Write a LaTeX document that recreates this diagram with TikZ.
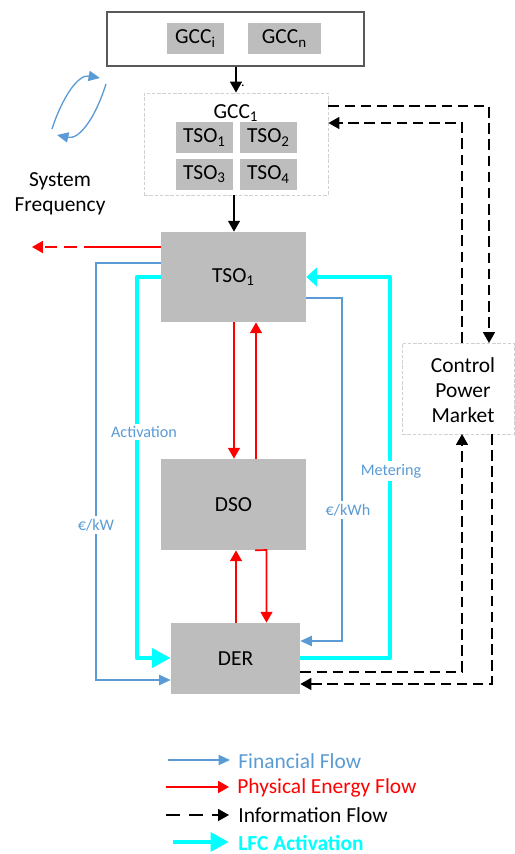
\documentclass[tikz,border=0pt]{standalone}
\usepackage{fontspec}
\setmainfont{Carlito}
\usepackage{xcolor}
\usetikzlibrary{arrows.meta,positioning,calc}
\definecolor{flowblue}{HTML}{5B9BD5}
\definecolor{boxgray}{HTML}{BDBDBD}
\definecolor{lfccyan}{HTML}{00FFFF}

\begin{document}
\begin{tikzpicture}[
  x=0.02cm, y=-0.02cm,
  gbox/.style={fill=boxgray, inner sep=0pt, font=\fontsize{12.2}{14}\selectfont},
  dbox/.style={draw=black!18, line width=0.5pt, dash pattern=on 2pt off 1pt, inner sep=0pt, align=center, font=\fontsize{12.2}{14.2}\selectfont},
  finflow/.style={draw=flowblue, line width=0.75pt, -{Triangle[length=6.5pt,width=5.8pt,fill=flowblue]}},
  phyflow/.style={draw=red, line width=0.95pt, -{Triangle[length=6.2pt,width=6.8pt]}},
  infoflow/.style={draw=black, line width=0.8pt, dash pattern=on 6pt off 3.2pt, -{Triangle[length=6.2pt,width=6.8pt]}},
  ctrlflow/.style={draw=black, line width=0.85pt, -{Triangle[length=6.2pt,width=6.8pt]}},
  lfcflow/.style={draw=lfccyan, line width=2.6pt, line join=round, -{Triangle[length=10.5pt,width=10.5pt]}},
  flowlabel/.style={text=flowblue, fill=white, inner xsep=0pt, inner ysep=1.5pt, font=\fontsize{9.2}{10}\selectfont},
  legendtext/.style={anchor=west, inner sep=0pt, font=\fontsize{12.2}{14}\selectfont}
]
\useasboundingbox (0,0) rectangle (514,854);

% GCC row
\node[draw=black!65, line width=0.7pt, minimum width=257*0.02cm, minimum height=54*0.02cm, inner sep=0pt] (gccrow) at (235.5,39) {};
\node[gbox, minimum width=57*0.02cm, minimum height=31*0.02cm] (gcci) at (195.5,38.5) {GCC\textsubscript{i}};
\node[gbox, minimum width=73*0.02cm, minimum height=31*0.02cm] (gccn) at (284.5,38.5) {GCC\textsubscript{n}};

% GCC 1 and its TSOs
\node[dbox, minimum width=184*0.02cm, minimum height=102*0.02cm] (gccone) at (236,144) {};
\node[inner sep=0pt, font=\fontsize{12.2}{14}\selectfont] (gcconelabel) at (236,113) {GCC\textsubscript{1}};
\node[gbox, minimum width=57*0.02cm, minimum height=31*0.02cm] (tsoa) at (204.5,137.5) {TSO\textsubscript{1}};
\node[gbox, minimum width=57*0.02cm, minimum height=31*0.02cm] (tsob) at (268.5,137.5) {TSO\textsubscript{2}};
\node[gbox, minimum width=57*0.02cm, minimum height=31*0.02cm] (tsoc) at (204.5,174.5) {TSO\textsubscript{3}};
\node[gbox, minimum width=57*0.02cm, minimum height=31*0.02cm] (tsod) at (268.5,174.5) {TSO\textsubscript{4}};

% Main blocks
\node[gbox, minimum width=145*0.02cm, minimum height=90*0.02cm] (tso) at (233.5,277) {TSO\textsubscript{1}};
\node[gbox, minimum width=145*0.02cm, minimum height=91*0.02cm] (dso) at (233.5,504.5) {DSO};
\node[gbox, minimum width=129*0.02cm, minimum height=71*0.02cm] (der) at (235.5,658.5) {DER};
\node[dbox, minimum width=112*0.02cm, minimum height=91*0.02cm] (market) at (458,388.5) {};
\node[inner sep=0pt, align=center, font=\fontsize{12.2}{14.2}\selectfont] (marketlabel) at (463,390.5) {Control\\Power\\Market};

% System frequency
\node[inner sep=0pt, align=center, font=\fontsize{12.2}{14.2}\selectfont] (sysfreq) at (60,194) {System\\Frequency};
\coordinate (cyca) at (52,129);
\coordinate (cycb) at (100,78);
\coordinate (cycc) at (106,84);
\coordinate (cycd) at (57,135);
\draw[finflow] (cyca) .. controls (62,98) and (78,74) .. (cycb);
\draw[finflow] (cycc) .. controls (96,116) and (80,140) .. (cycd);

% Black arrows
\draw[ctrlflow] (gccrow.south -| 236,0) -- (gccone.north -| 236,0);
\node[inner sep=0pt, font=\fontsize{8}{10}\selectfont] (dotmark) at (243,86) {.};
\draw[ctrlflow] (gccone.south -| 234,0) -- (tso.north -| 234,0);

% Red flows
\coordinate (sysleft) at (32,247);
\coordinate (sysmid) at (96,247);
\draw[draw=red, line width=0.95pt] (tso.west |- sysmid) -- (sysmid);
\draw[phyflow, dash pattern=on 7pt off 4pt] (sysmid) -- (sysleft);
\draw[phyflow] (tso.south -| 234,0) -- (dso.north -| 234,0);
\draw[phyflow] (dso.north -| 256,0) -- (tso.south -| 256,0);
\draw[phyflow] (der.north -| 236,0) -- (dso.south -| 236,0);
\draw[phyflow] (dso.south -| 255,0) -- (266.5,550) -- (der.north -| 266.5,0);

% Financial flows
\draw[finflow] (tso.west |- 0,263) -- (96,263) -- (96,680) -- (der.west |- 0,680);
\draw[finflow] (tso.east |- 0,298) -- (342,298) -- (342,641) -- (der.east |- 0,641);

% LFC activation
\draw[lfcflow] (tso.west |- 0,277) -- (137,277) -- (137,658) -- (der.west |- 0,658);
\draw[lfcflow, -{Triangle[length=6pt,width=10.5pt]}] (der.east |- 0,658) -- (390,658) -- (390,277) -- (tso.east |- 0,277);

% Information flows
\draw[infoflow] (gccone.east |- 0,106) -- (489,106) -- (489,343);
\draw[infoflow] (462,343) -- (462,123) -- (gccone.east |- 0,123);
\draw[infoflow] (der.east |- 0,672) -- (462,672) -- (462,434);
\draw[infoflow] (492,434) -- (492,684) -- (der.east |- 0,684);

% Labels
\node[flowlabel] (lblact) at (144,432) {Activation};
\node[flowlabel] (lblmet) at (391,471) {Metering};
\node[flowlabel] (lblkw) at (96,525) {€/kW};
\node[flowlabel] (lblkwh) at (348,510) {€/kWh};

% Legend
\node[legendtext, text=flowblue] (legfin) at (238,761) {Financial Flow};
\node[legendtext, text=red] (legphy) at (237,788) {Physical Energy Flow};
\node[legendtext] (leginfo) at (238,815) {Information Flow};
\node[legendtext, text=lfccyan, font=\fontsize{12.2}{14}\selectfont\bfseries] (leglfc) at (238,843) {LFC Activation};
\coordinate (lega) at (168,760);
\coordinate (legb) at (166,787);
\coordinate (legc) at (166,815);
\coordinate (legd) at (173,842);
\draw[finflow] (lega) -- (230,760);
\draw[phyflow] (legb) -- (229,787);
\draw[infoflow, dash pattern=on 8pt off 5pt] (legc) -- (229,815);
\draw[lfcflow] (legd) -- (229,842);
\end{tikzpicture}
\end{document}
